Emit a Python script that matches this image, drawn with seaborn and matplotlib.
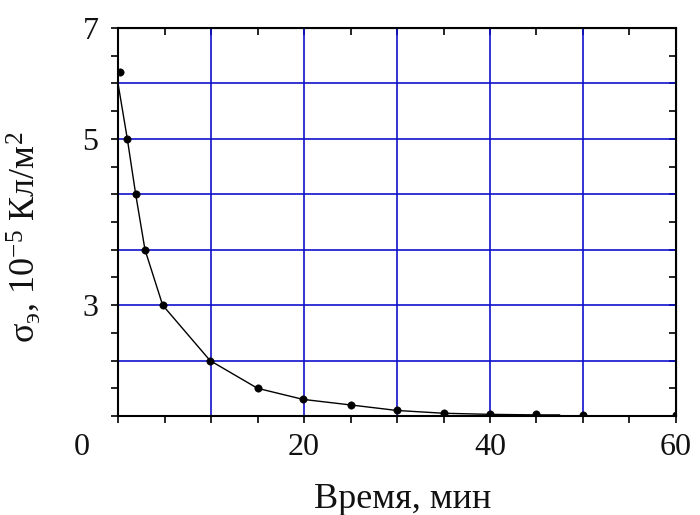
import matplotlib
matplotlib.use('Agg')
import matplotlib.pyplot as plt
import matplotlib.transforms as mtransforms
from matplotlib.ticker import MultipleLocator
import seaborn as sns
import pandas as pd

# измеренные точки
t_points = [0.2, 1.0, 1.9, 2.9, 4.8, 9.9, 15.0, 19.9, 25.0, 30.0, 35.0, 40.0, 45.0, 50.0, 60.0]
sigma_points = [6.2, 5.0, 4.0, 3.0, 2.0, 1.0, 0.5, 0.3, 0.2, 0.1, 0.05, 0.03, 0.03, 0.02, 0.02]

# аппроксимирующая кривая
t_curve = [0.0, 1.0, 1.9, 2.9, 4.8, 9.9, 15.0, 19.9, 25.0, 30.0, 35.0, 40.0, 45.0, 47.5]
sigma_curve = [6.0, 5.0, 4.0, 3.0, 2.0, 1.0, 0.5, 0.3, 0.2, 0.1, 0.05, 0.03, 0.02, 0.02]

x_ticks = [0, 20, 40, 60]
y_ticks = [7, 5, 2]
y_tick_labels = ['7', '5', '3']

df_p = pd.DataFrame({'t': t_points, 's': sigma_points})
df_c = pd.DataFrame({'t': t_curve, 's': sigma_curve})

sns.set_style('ticks')
plt.rcParams['font.family'] = ['Liberation Serif', 'DejaVu Serif']
plt.rcParams['mathtext.default'] = 'regular'
plt.rcParams['text.color'] = '#111111'
plt.rcParams['axes.labelcolor'] = '#111111'
plt.rcParams['xtick.labelcolor'] = '#111111'
plt.rcParams['ytick.labelcolor'] = '#111111'

fig = plt.figure(figsize=(7, 5.15), dpi=100)
ax = fig.add_axes([0.1686, 0.1922, 0.7971, 0.7534])

ax.set_xlim(0, 60)
ax.set_ylim(0, 7)
ax.xaxis.set_minor_locator(MultipleLocator(5))
ax.yaxis.set_minor_locator(MultipleLocator(0.5))
ax.grid(True, which='major', color='#1010cc', linewidth=1.2)
ax.set_axisbelow(True)

sns.lineplot(data=df_c, x='t', y='s', color='black', linewidth=1.0, ax=ax)
sns.scatterplot(data=df_p, x='t', y='s', color='black', s=28, edgecolor='black', ax=ax, zorder=3)

ax.set_xticks(range(0, 61, 10))
ax.set_xticklabels([str(v) if v in x_ticks else '' for v in range(0, 61, 10)])
ax.set_yticks(range(8))
ax.set_yticklabels([y_tick_labels[y_ticks.index(v)] if v in y_ticks else '' for v in range(8)])

ax.tick_params(which='both', direction='out', labelsize=23, width=1.2, length=5, color='black')
ax.tick_params(axis='x', pad=7)
ax.tick_params(axis='y', pad=9)

# сдвиг метки "0"
lbl0 = ax.get_xticklabels()[0]
lbl0.set_transform(lbl0.get_transform() + mtransforms.ScaledTranslation(-0.36, 0, fig.dpi_scale_trans))

for s in ax.spines.values():
    s.set_linewidth(1.5)
    s.set_color('black')

sec_x = ax.secondary_xaxis('top')
sec_x.xaxis.set_major_locator(MultipleLocator(5))
sec_x.tick_params(direction='in', length=5, width=1.2, color='black', labeltop=False)
sec_y = ax.secondary_yaxis('right')
sec_y.yaxis.set_major_locator(MultipleLocator(0.5))
sec_y.tick_params(direction='in', length=5, width=1.2, color='black', labelright=False)

ax.set_xlabel('Время, мин', fontsize=26)
ax.set_ylabel('σ$_э$, 10$^{-5}$ Кл/м$^2$', fontsize=26)
ax.yaxis.set_label_coords(-0.136, 0.46)
ax.xaxis.set_label_coords(0.51, -0.173)

fig.savefig('out.png', dpi=100)
